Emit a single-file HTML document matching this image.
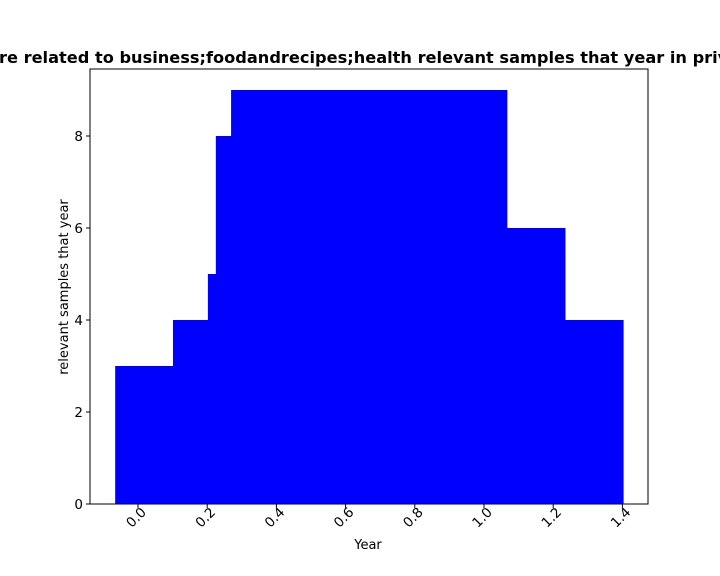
<!DOCTYPE html>
<html><head><meta charset="utf-8"><style>
html,body{margin:0;padding:0;background:#fff;}
svg{display:block;font-family:"DejaVu Sans","Liberation Sans",sans-serif;}
</style></head><body>
<svg id="chart" width="720" height="576" viewBox="0 0 720 576">
<rect x="0" y="0" width="720" height="576" fill="#fff"/>
<text x="-1" y="63" font-size="16.2" font-weight="bold" fill="#000">re related to business;foodandrecipes;health relevant samples that year in privacy</text>
<g id="bars"></g>
<rect x="90" y="69" width="558" height="435" fill="none" stroke="#000" stroke-width="1"/>
<g id="xticks"></g>
<g id="yticks"></g>
<text x="368" y="549" font-size="13" text-anchor="middle">Year</text>
<text transform="translate(68,287) rotate(-90)" font-size="13" text-anchor="middle">relevant samples that year</text>
</svg>
<script>
const segmentStarts = [-0.066, 0.101, 0.202, 0.225, 0.269, 1.066, 1.234];
const segmentEnds = [0.101, 0.202, 0.225, 0.269, 1.066, 1.234, 1.402];
const counts = [3, 4, 5, 8, 9, 6, 4];
const xTicks = [0.0, 0.2, 0.4, 0.6, 0.8, 1.0, 1.2, 1.4];
const yTicks = [0, 2, 4, 6, 8];

const NS = "http://www.w3.org/2000/svg";
const X = v => 138 + v * 346;
const Y = v => 504 - v * 46;
const bars = document.getElementById('bars');
counts.forEach((c, i) => {
  const r = document.createElementNS(NS, 'rect');
  const x0 = X(segmentStarts[i]), x1 = X(segmentEnds[i]);
  r.setAttribute('x', x0); r.setAttribute('width', x1 - x0 + 0.5);
  r.setAttribute('y', Y(c)); r.setAttribute('height', Y(0) - Y(c));
  r.setAttribute('fill', '#0000ff');
  
  
  bars.appendChild(r);
});
const xg = document.getElementById('xticks');
xTicks.forEach(t => {
  const x = X(t);
  const l = document.createElementNS(NS, 'line');
  l.setAttribute('x1', x); l.setAttribute('x2', x); l.setAttribute('y1', 504); l.setAttribute('y2', 508);
  l.setAttribute('stroke', '#000');
  
  
  xg.appendChild(l);
  const tx = document.createElementNS(NS, 'text');
  tx.setAttribute('transform', `translate(${x + 9},${513}) rotate(-45)`);
  tx.setAttribute('text-anchor', 'end'); tx.setAttribute('font-size', '13.5');
  tx.textContent = t.toFixed(1);
  
  
  xg.appendChild(tx);
});
const yg = document.getElementById('yticks');
yTicks.forEach(t => {
  const y = Y(t);
  const l = document.createElementNS(NS, 'line');
  l.setAttribute('x1', 86); l.setAttribute('x2', 90); l.setAttribute('y1', y); l.setAttribute('y2', y);
  l.setAttribute('stroke', '#000');
  
  
  yg.appendChild(l);
  const tx = document.createElementNS(NS, 'text');
  tx.setAttribute('x', 83); tx.setAttribute('y', y + 5);
  tx.setAttribute('text-anchor', 'end'); tx.setAttribute('font-size', '13.5');
  tx.textContent = t;
  
  
  yg.appendChild(tx);
});
</script>
</body></html>
